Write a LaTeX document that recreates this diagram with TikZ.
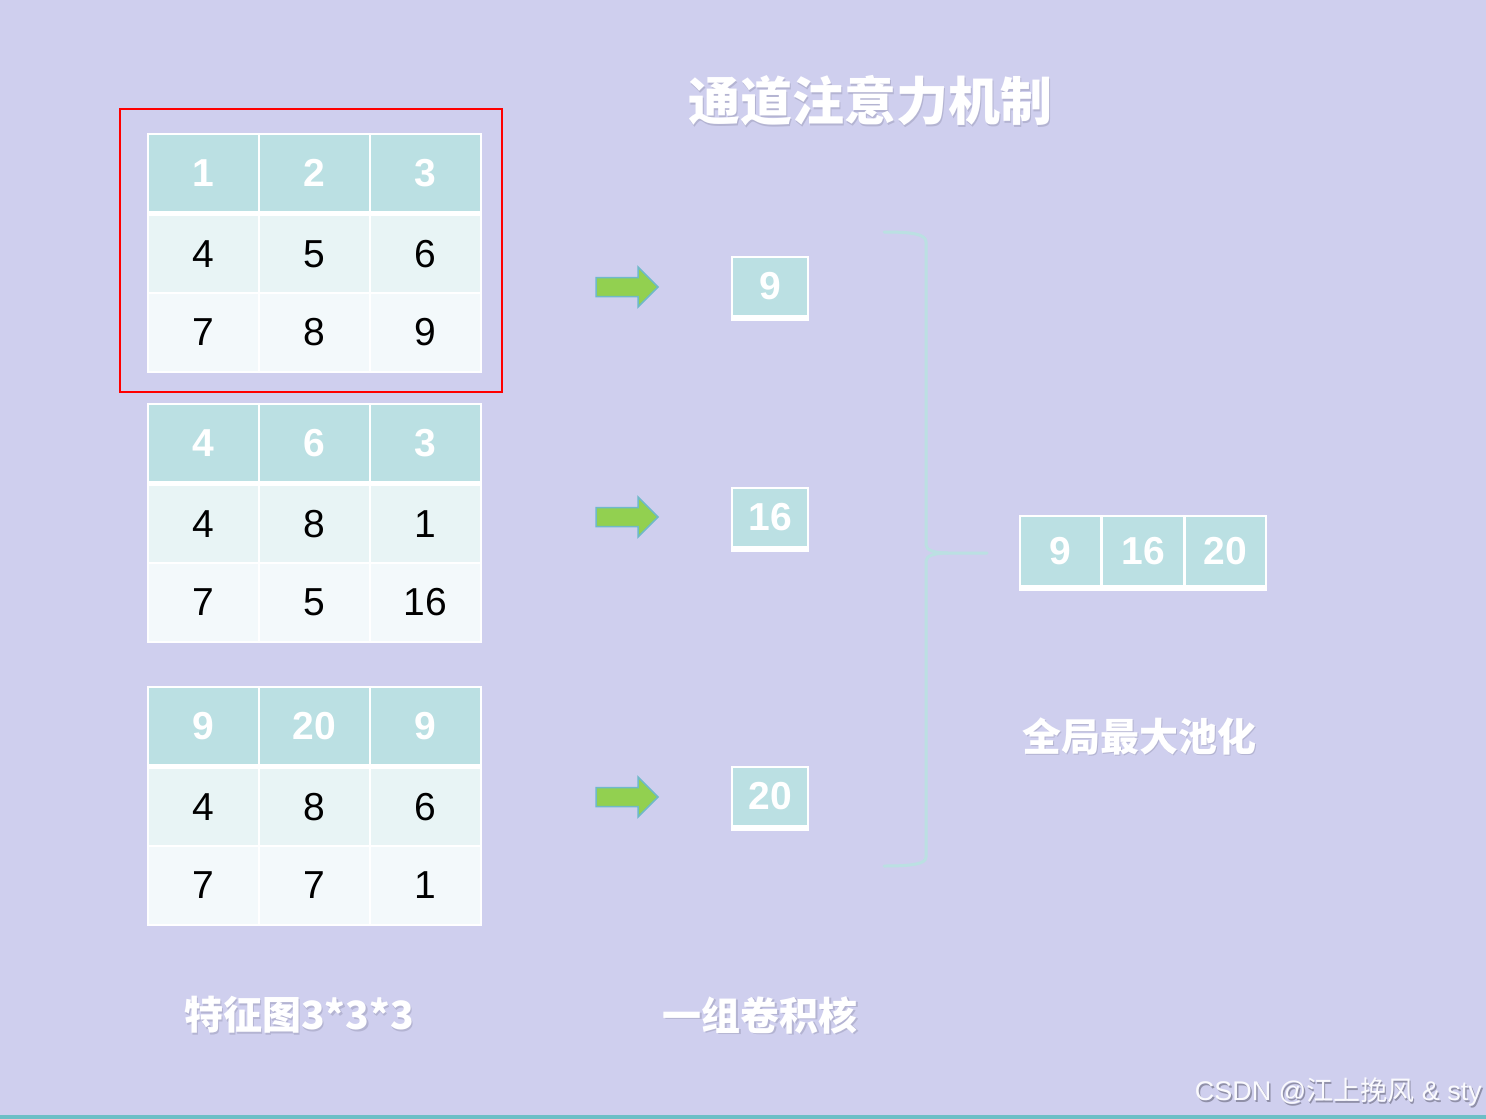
\documentclass[tikz,border=0pt]{standalone}
\usepackage{fontspec}
\setmainfont{Liberation Sans}
\newfontfamily\cjk{Noto Sans CJK SC}
\definecolor{bgc}{HTML}{CFCFEE}
\definecolor{hdr}{HTML}{BBE0E3}
\definecolor{rowa}{HTML}{E8F4F5}
\definecolor{rowb}{HTML}{F3F9FB}
\definecolor{arrg}{HTML}{92D050}
\definecolor{arrb}{HTML}{6FB9C9}
\definecolor{brc}{HTML}{BBE0E2}
\definecolor{shd}{HTML}{B4B4D2}
\definecolor{botl}{HTML}{6CBFC6}
\newcommand{\mkrow}[6]{%
  \node[#3] (#1a) at (203.5,#2) {#4};
  \node[#3] (#1b) at (314.5,#2) {#5};
  \node[#3] (#1c) at (425.5,#2) {#6};}
\begin{document}
\begin{tikzpicture}[x=1pt,y=-1pt,
  cellbase/.style={inner sep=0pt,minimum width=109pt,minimum height=76pt},
  hcell/.style={cellbase,fill=hdr,text=white,font=\fontsize{39}{44}\selectfont\bfseries},
  acell/.style={cellbase,fill=rowa,text=black,font=\fontsize{39}{44}\selectfont},
  bcell/.style={cellbase,fill=rowb,text=black,font=\fontsize{39}{44}\selectfont,minimum height=77pt},
  sbox/.style={inner sep=0pt,fill=hdr,text=white,font=\fontsize{39}{44}\selectfont\bfseries},
  blockarrow/.style={fill=arrg,draw=arrb,line width=1.5pt,line join=miter},
  cjkt/.style={text=white,font=\cjk\bfseries\fontsize{39}{44}\selectfont,inner sep=0pt},
  cjks/.style={text=shd,font=\cjk\bfseries\fontsize{39}{44}\selectfont,inner sep=0pt},
]
\useasboundingbox (0,0) rectangle (1486,1119);
\fill[bgc] (0,0) rectangle (1486,1119);
\fill[botl] (0,1115) rectangle (1486,1119);

% tables
\foreach \dy/\ha/\hb/\hc/\aa/\ab/\ac/\ba/\bb/\bc/\tn in
  {0/1/2/3/4/5/6/7/8/9/p, 270/4/6/3/4/8/1/7/5/16/q, 553/9/20/9/4/8/6/7/7/1/r}{
  \fill[white] (147,133+\dy) rectangle (482,373+\dy);
  \mkrow{\tn h}{173+\dy}{hcell}{\ha}{\hb}{\hc}
  \mkrow{\tn m}{254+\dy}{acell}{\aa}{\ab}{\ac}
  \mkrow{\tn l}{332.5+\dy}{bcell}{\ba}{\bb}{\bc}
}

% red selection frame
\node[draw=red,line width=2pt,minimum width=382pt,minimum height=283pt,inner sep=0pt] (sel) at (311,250.5) {};

% block arrows
\foreach \cy/\an in {287/a1,517/a2,797/a3}{
  \coordinate (\an) at (596,\cy);
  \draw[blockarrow] (\an) ++(0,-9.5) -- ++(42,0) -- ++(0,-10.5) -- ++(20,20) -- ++(-20,20) -- ++(0,-10.5) -- ++(-42,0) -- cycle;
}

% single result boxes
\foreach \top/\v/\bn in {256/9/b1,487/16/b2,766/20/b3}{
  \fill[white] (731,\top) rectangle (809,\top+65);
  \node[sbox,minimum width=74pt,minimum height=57pt] (\bn) at (770,\top+30.5) {\v};
}

% brace
\draw[brc,line width=3pt,line cap=round]
  (884,232) .. controls (912,232) and (926,234) .. (926,242) -- (926,545)
  .. controls (926,550) and (934,553) .. (948,553) -- (987,553);
\draw[brc,line width=3pt,line cap=round]
  (948,553) .. controls (934,553) and (926,556) .. (926,561) -- (926,857)
  .. controls (926,864) and (912,866) .. (884,866);
\coordinate (bracetip) at (987,553);

% pooled vector
\fill[white] (1019,515) rectangle (1267,591);
\node[sbox,minimum width=79pt,minimum height=68pt] (v1) at (1060.5,551) {9};
\node[sbox,minimum width=80pt,minimum height=68pt] (v2) at (1143,551) {16};
\node[sbox,minimum width=79pt,minimum height=68pt] (v3) at (1225.5,551) {20};

% labels
\node[cjks,font=\cjk\bfseries\fontsize{52}{58}\selectfont] (titles) at (871.5,102.5) {通道注意力机制};
\node[cjkt,font=\cjk\bfseries\fontsize{52}{58}\selectfont] (title) at (870,101) {通道注意力机制};
\node[cjks] (lab1s) at (300.5,1016.5) {特征图3*3*3};
\node[cjkt] (lab1) at (299,1015) {特征图3*3*3};
\node[cjks] (lab2s) at (761.5,1016.5) {一组卷积核};
\node[cjkt] (lab2) at (760,1015) {一组卷积核};
\node[cjks] (lab3s) at (1140.5,737.5) {全局最大池化};
\node[cjkt] (lab3) at (1139,736) {全局最大池化};

% watermark
\node[anchor=east,text=shd!80!black,font=\fontsize{27}{30}\selectfont,inner sep=0pt] (wms) at (1483.5,1093.5) {CSDN @{\cjk 江上挽风} \& sty};
\node[anchor=east,text=white!90!bgc,font=\fontsize{27}{30}\selectfont,inner sep=0pt] (wm) at (1482,1092) {CSDN @{\cjk 江上挽风} \& sty};
\end{tikzpicture}
\end{document}
